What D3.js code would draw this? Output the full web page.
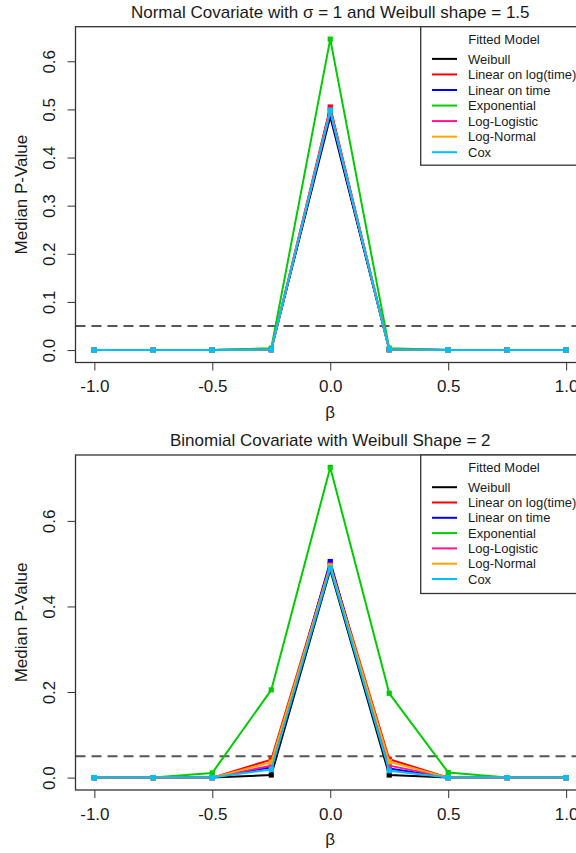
<!DOCTYPE html>
<html><head><meta charset="utf-8">
<script src="https://cdn.jsdelivr.net/npm/d3@7"></script>
<style>
body{margin:0;background:#fff}
svg{display:block;font-family:"Liberation Sans",Arial,sans-serif}
</style>
</head><body><svg id="c" width="576" height="853"></svg>
<script>
// ---------- data ----------
const betas = [-1, -0.75, -0.5, -0.25, 0, 0.25, 0.5, 0.75, 1];
const models = ["Weibull", "Linear on log(time)", "Linear on time", "Exponential", "Log-Logistic", "Log-Normal", "Cox"];
const colors = ["#000000", "#FF0000", "#0000FF", "#00CD00", "#FF1493", "#FFA500", "#00BFFF"];
const xTicks = [-1, -0.5, 0, 0.5, 1];
const yTicksTop = [0, 0.1, 0.2, 0.3, 0.4, 0.5, 0.6];
const yTicksBottom = [0, 0.2, 0.4, 0.6];
const alphaLevel = 0.05;
const titleTop = "Normal Covariate with \u03C3 = 1 and Weibull shape = 1.5";
const titleBottom = "Binomial Covariate with Weibull Shape = 2";
const legendTitle = "Fitted Model";
const xLabel = "\u03B2";
const yLabel = "Median P-Value";

// panel 1: Normal covariate
const topWeibull     = [0, 0, 0, 0.001, 0.485, 0.001, 0, 0, 0];
const topLinLog      = [0, 0, 0, 0.001, 0.505, 0.001, 0, 0, 0];
const topLinTime     = [0, 0, 0, 0.001, 0.490, 0.001, 0, 0, 0];
const topExponential = [0, 0, 0, 0.004, 0.646, 0.004, 0, 0, 0];
const topLogLogistic = [0, 0, 0, 0.001, 0.500, 0.001, 0, 0, 0];
const topLogNormal   = [0, 0, 0, 0.001, 0.497, 0.001, 0, 0, 0];
const topCox         = [0, 0, 0, 0.001, 0.498, 0.001, 0, 0, 0];

// panel 2: Binomial covariate
const botWeibull     = [0, 0, 0, 0.006, 0.485, 0.006, 0, 0, 0];
const botLinLog      = [0, 0, 0, 0.042, 0.500, 0.043, 0, 0, 0];
const botLinTime     = [0, 0, 0, 0.024, 0.505, 0.021, 0, 0, 0];
const botExponential = [0, 0, 0.011, 0.205, 0.725, 0.197, 0.012, 0, 0];
const botLogLogistic = [0, 0, 0, 0.028, 0.497, 0.028, 0, 0, 0];
const botLogNormal   = [0, 0, 0, 0.036, 0.495, 0.037, 0, 0, 0];
const botCox         = [0, 0, 0, 0.019, 0.490, 0.016, 0, 0, 0];

const topSeries = [topWeibull, topLinLog, topLinTime, topExponential, topLogLogistic, topLogNormal, topCox];
const botSeries = [botWeibull, botLinLog, botLinTime, botExponential, botLogLogistic, botLogNormal, botCox];

// ---------- drawing ----------
const svg = d3.select("#c");
const textCol = "#1a1a1a";
const fmt = d => d.toFixed(1);

function panel(cfg) {
  const {top, bottom, series, yTicks, title, legendDy} = cfg;
  const left = 75.5, right = 585;
  const g = svg.append("g");
  const xs = d3.scaleLinear().domain([-1.08, 1.08]).range([left, right]);
  const all = series.flat();
  const ymin = d3.min(all), ymax = d3.max(all), r = ymax - ymin;
  const ys = d3.scaleLinear().domain([ymin - 0.04 * r, ymax + 0.04 * r]).range([bottom, top]);

  const clipId = "clip" + Math.round(top);
  g.append("clipPath").attr("id", clipId).append("rect")
    .attr("x", left).attr("y", top).attr("width", right - left).attr("height", bottom - top);

  // title
  g.append("text").attr("x", (left + right) / 2).attr("y", top - 8.7)
    .attr("text-anchor", "middle").attr("font-size", 17).attr("fill", textCol).text(title);

  // reference line
  g.append("line").attr("clip-path", `url(#${clipId})`)
    .attr("x1", left).attr("x2", right).attr("y1", ys(alphaLevel)).attr("y2", ys(alphaLevel))
    .attr("stroke", "#555").attr("stroke-width", 2).attr("stroke-dasharray", "10,6");

  // series
  const line = d3.line().x((d, i) => xs(betas[i])).y(d => ys(d));
  const plot = g.append("g").attr("clip-path", `url(#${clipId})`);
  series.forEach((s, k) => {
    plot.append("path").datum(s).attr("d", line).attr("fill", "none")
      .attr("stroke", colors[k]).attr("stroke-width", 2).attr("stroke-linejoin", "round");
    plot.selectAll(null).data(s).enter().append("rect")
      .attr("x", (d, i) => xs(betas[i]) - 2.6).attr("y", d => ys(d) - 2.6)
      .attr("width", 5.2).attr("height", 5.2).attr("fill", colors[k]);
  });

  // axes
  const xa = g.append("g").attr("transform", `translate(0,${bottom})`)
    .call(d3.axisBottom(xs).tickValues(xTicks).tickFormat(fmt).tickSize(8).tickSizeOuter(0).tickPadding(11));
  xa.select(".domain").remove();
  xa.selectAll("line").attr("stroke", "#333");
  xa.selectAll("text").attr("font-size", 17).attr("fill", textCol).attr("font-family", null)
    .attr("dy", null).attr("y", 29.5);

  const ya = g.append("g").attr("transform", `translate(${left},0)`)
    .call(d3.axisLeft(ys).tickValues(yTicks).tickFormat(fmt).tickSize(8).tickSizeOuter(0));
  ya.select(".domain").remove();
  ya.selectAll("line").attr("stroke", "#333");
  ya.selectAll("text").attr("font-size", 17).attr("fill", textCol).attr("font-family", null)
    .attr("dy", null).attr("x", 0).attr("y", -20.5).attr("text-anchor", "middle")
    .attr("transform", "rotate(-90)");

  // box
  g.append("rect").attr("x", left).attr("y", top).attr("width", right - left).attr("height", bottom - top)
    .attr("fill", "none").attr("stroke", "#333").attr("stroke-width", 1.3);

  // axis titles
  g.append("text").attr("x", (left + right) / 2).attr("y", bottom + 55)
    .attr("text-anchor", "middle").attr("font-size", 17).attr("fill", textCol).text(xLabel);
  g.append("text").attr("transform", `translate(27,${(top + bottom) / 2}) rotate(-90)`)
    .attr("text-anchor", "middle").attr("font-size", 17).attr("fill", textCol).text(yLabel);

  // legend
  const lx = 420.7, lw = right - lx, lh = 138.5;
  const lg = g.append("g");
  lg.append("rect").attr("x", lx).attr("y", top).attr("width", lw).attr("height", lh)
    .attr("fill", "#fff").attr("stroke", "#333").attr("stroke-width", 1.3);
  lg.append("text").attr("x", 504).attr("y", top + 12.2 + 4.6).attr("text-anchor", "middle")
    .attr("font-size", 13).attr("fill", textCol).text(legendTitle);
  models.forEach((m, k) => {
    const cy = top + 32.2 + k * legendDy;
    lg.append("line").attr("x1", 432).attr("x2", 457).attr("y1", cy).attr("y2", cy)
      .attr("stroke", colors[k]).attr("stroke-width", 2);
    lg.append("text").attr("x", 468).attr("y", cy + 4.6).attr("font-size", 13)
      .attr("fill", textCol).text(m);
  });
}

panel({top: 26.7, bottom: 362.5, series: topSeries, yTicks: yTicksTop, title: titleTop, legendDy: 15.55});
panel({top: 455, bottom: 790, series: botSeries, yTicks: yTicksBottom, title: titleBottom, legendDy: 15.3});
</script>
</body></html>
